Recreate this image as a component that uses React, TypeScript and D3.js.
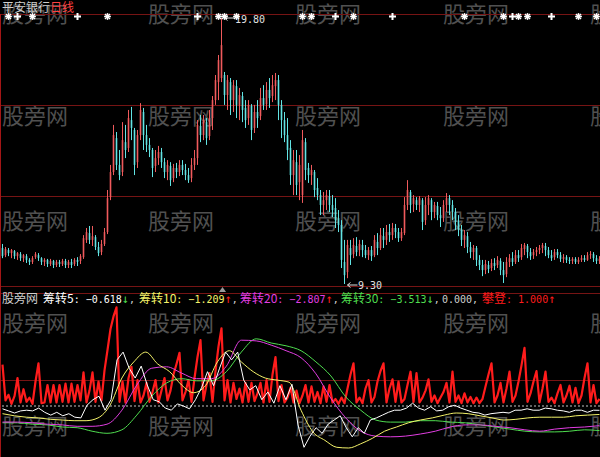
import React from "react";
import * as d3 from "d3";

const WIDTH = 600;
const HEIGHT = 457;

// Daily candles (平安银行 日线)
const opens = [
  10.72, 10.44, 10.64, 10.52, 10.6, 10.4, 10.48, 10.32, 10.4, 10.25,
  10.17, 10.36, 10.44, 10.32, 10.17, 10.25, 10.09, 10.21, 10.05, 10.17,
  10.09, 10.21, 10.05, 10.17, 10.09, 10.25, 10.21, 10.36, 11.04, 11.31,
  11.04, 11.15, 10.76, 10.56, 10.88, 11.35, 12.73, 13.72, 15.06, 14.0,
  13.72, 14.9, 14.67, 15.77, 15.38, 14.11, 15.18, 16.09, 15.18, 14.79,
  14.59, 13.96, 14.27, 14.51, 14.11, 13.72, 13.96, 13.48, 13.88, 13.72,
  14.0, 13.8, 13.6, 13.48, 14.0, 14.27, 15.54, 15.18, 15.69, 15.14,
  15.85, 16.56, 17.27, 17.43, 17.55, 16.76, 17.27, 16.56, 17.11, 16.37,
  16.72, 16.25, 15.85, 16.33, 15.46, 16.09, 15.93, 16.64, 16.4, 16.96,
  16.72, 17.11, 17.35, 16.37, 15.77, 15.18, 14.67, 13.6, 14.11, 13.32,
  12.81, 14.9, 13.88, 13.6, 13.72, 13.09, 12.81, 12.42, 12.61, 12.77,
  12.42, 12.3, 11.9, 11.63, 10.17, 9.77, 10.72, 10.48, 10.8, 10.64,
  10.84, 10.64, 10.44, 10.64, 10.44, 10.96, 10.72, 11.19, 11.04, 11.35,
  11.23, 11.51, 11.35, 11.11, 11.31, 12.42, 12.93, 12.46, 12.61, 12.42,
  12.61, 11.82, 12.42, 12.61, 12.14, 12.38, 12.02, 11.9, 12.42, 12.69,
  12.42, 12.14, 11.75, 11.43, 11.04, 11.19, 10.76, 10.56, 10.72, 10.25,
  10.05, 9.85, 10.05, 9.93, 10.13, 10.05, 10.21, 9.85, 9.69, 10.17,
  10.32, 10.17, 10.44, 10.36, 10.68, 10.8, 10.56, 10.44, 10.56, 10.64,
  10.72, 10.8, 10.64, 10.44, 10.36, 10.56, 10.44, 10.29, 10.36, 10.25,
  10.21, 10.29, 10.17, 10.25, 10.32, 10.25, 10.44, 10.48, 10.32, 10.21,
];
const closes = [
  10.4, 10.68, 10.52, 10.64, 10.4, 10.52, 10.32, 10.44, 10.25, 10.17,
  10.32, 10.48, 10.32, 10.17, 10.25, 10.09, 10.21, 10.05, 10.17, 10.09,
  10.21, 10.05, 10.17, 10.05, 10.25, 10.17, 10.4, 11.11, 11.35, 11.04,
  11.19, 10.76, 10.52, 10.88, 11.35, 12.69, 13.72, 15.18, 14.0, 13.6,
  14.98, 14.59, 15.85, 15.46, 14.0, 15.18, 16.17, 15.18, 14.79, 14.59,
  13.88, 14.27, 14.51, 14.11, 13.72, 14.0, 13.4, 13.88, 13.72, 14.0,
  13.8, 13.6, 13.4, 14.0, 14.27, 15.58, 15.18, 15.77, 15.06, 15.85,
  16.56, 17.35, 18.14, 18.73, 16.76, 17.35, 16.56, 17.15, 16.37, 16.76,
  16.17, 15.77, 16.37, 15.38, 16.09, 15.85, 16.64, 16.37, 16.96, 16.64,
  17.15, 17.35, 16.37, 15.77, 15.18, 14.59, 13.6, 14.19, 13.21, 14.0,
  14.98, 13.8, 13.6, 13.8, 13.01, 12.81, 12.42, 12.61, 12.81, 12.42,
  12.22, 11.82, 11.63, 10.25, 9.65, 10.84, 10.44, 10.84, 10.56, 10.88,
  10.64, 10.44, 10.64, 10.4, 11.04, 10.72, 11.23, 11.04, 11.35, 11.23,
  11.51, 11.35, 11.11, 11.35, 12.42, 13.01, 12.42, 12.69, 12.42, 12.69,
  11.75, 12.42, 12.69, 12.14, 12.42, 12.02, 11.9, 12.42, 12.69, 12.42,
  12.14, 11.75, 11.43, 11.04, 11.23, 10.76, 10.56, 10.72, 10.25, 10.05,
  9.85, 10.09, 9.89, 10.13, 10.01, 10.25, 9.85, 9.65, 10.17, 10.32,
  10.17, 10.44, 10.32, 10.72, 10.84, 10.56, 10.4, 10.56, 10.64, 10.72,
  10.84, 10.64, 10.44, 10.32, 10.56, 10.44, 10.29, 10.36, 10.25, 10.21,
  10.29, 10.17, 10.25, 10.32, 10.25, 10.44, 10.48, 10.32, 10.21, 10.29,
];
const highs = [
  10.88, 10.76, 10.72, 10.68, 10.64, 10.56, 10.56, 10.48, 10.48, 10.32,
  10.4, 10.56, 10.52, 10.36, 10.32, 10.29, 10.29, 10.25, 10.25, 10.25,
  10.29, 10.29, 10.25, 10.29, 10.32, 10.36, 10.48, 11.23, 11.51, 11.59,
  11.59, 11.23, 10.96, 11.04, 11.51, 13.01, 14.0, 15.58, 15.3, 14.59,
  15.69, 15.58, 16.17, 16.29, 15.46, 15.38, 16.44, 16.25, 15.58, 15.06,
  14.67, 14.59, 14.75, 14.67, 14.27, 14.19, 14.11, 14.04, 14.08, 14.19,
  14.19, 14.04, 13.88, 14.27, 14.59, 15.77, 15.97, 15.97, 15.85, 16.17,
  16.72, 17.55, 18.34, 19.8, 17.67, 17.55, 17.43, 17.35, 17.35, 17.04,
  16.88, 16.56, 16.56, 16.4, 16.37, 16.56, 17.04, 17.15, 17.27, 17.43,
  17.55, 17.63, 17.55, 16.56, 16.09, 15.85, 14.98, 14.59, 14.59, 14.39,
  15.38, 15.06, 14.08, 14.0, 13.8, 13.48, 13.01, 12.93, 13.01, 13.01,
  12.81, 12.69, 12.22, 11.82, 11.04, 11.04, 11.04, 11.11, 11.15, 11.04,
  11.04, 10.84, 10.76, 10.8, 11.23, 11.31, 11.51, 11.51, 11.63, 11.67,
  11.71, 11.67, 11.51, 11.51, 12.73, 13.4, 13.01, 12.81, 12.73, 12.77,
  12.69, 12.73, 12.81, 12.69, 12.54, 12.54, 12.34, 12.61, 12.89, 12.81,
  12.61, 12.3, 12.02, 11.63, 11.43, 11.35, 10.96, 10.84, 10.8, 10.44,
  10.25, 10.25, 10.21, 10.29, 10.32, 10.4, 10.32, 10.17, 10.36, 10.48,
  10.56, 10.64, 10.64, 10.88, 10.92, 10.88, 10.72, 10.68, 10.76, 10.84,
  10.92, 10.92, 10.76, 10.64, 10.68, 10.68, 10.56, 10.48, 10.44, 10.36,
  10.36, 10.36, 10.36, 10.44, 10.44, 10.56, 10.6, 10.56, 10.44, 10.4,
];
const lows = [
  10.32, 10.36, 10.4, 10.32, 10.29, 10.25, 10.21, 10.17, 10.13, 10.05,
  10.09, 10.29, 10.21, 10.05, 10.01, 9.97, 10.01, 9.93, 9.97, 9.97,
  10.01, 9.93, 9.93, 9.93, 10.01, 10.01, 10.09, 10.29, 10.92, 10.88,
  10.8, 10.64, 10.4, 10.44, 10.8, 11.27, 12.61, 13.6, 13.8, 13.4,
  13.56, 14.27, 14.51, 14.98, 13.6, 13.88, 14.98, 14.59, 14.51, 14.31,
  13.52, 13.72, 14.0, 13.88, 13.48, 13.4, 13.17, 13.32, 13.48, 13.56,
  13.6, 13.4, 13.29, 13.32, 13.8, 14.0, 14.9, 14.98, 14.79, 14.98,
  15.38, 16.37, 16.56, 17.27, 16.37, 16.17, 15.97, 16.09, 15.85, 15.77,
  15.69, 15.46, 15.58, 14.98, 15.26, 15.46, 15.77, 16.17, 16.17, 16.25,
  16.48, 16.56, 15.77, 15.06, 14.9, 14.19, 13.21, 12.81, 12.81, 12.61,
  12.5, 13.4, 13.29, 13.21, 12.73, 12.61, 12.02, 12.02, 12.22, 12.14,
  11.94, 11.51, 11.35, 9.93, 9.3, 9.53, 10.05, 10.32, 10.4, 10.4,
  10.36, 10.32, 10.25, 10.21, 10.36, 10.44, 10.64, 10.72, 10.84, 10.96,
  11.04, 11.11, 10.96, 11.0, 11.23, 12.22, 12.1, 12.14, 12.22, 12.14,
  11.43, 11.63, 12.02, 11.82, 11.9, 11.82, 11.55, 11.75, 12.14, 12.02,
  11.82, 11.43, 11.19, 10.8, 10.72, 10.52, 10.32, 10.25, 10.01, 9.85,
  9.61, 9.69, 9.73, 9.81, 9.85, 9.93, 9.65, 9.34, 9.57, 9.97,
  10.01, 10.09, 10.17, 10.25, 10.44, 10.32, 10.25, 10.29, 10.4, 10.48,
  10.52, 10.4, 10.32, 10.21, 10.25, 10.32, 10.17, 10.13, 10.13, 10.09,
  10.09, 10.09, 10.09, 10.17, 10.17, 10.21, 10.29, 10.17, 10.09, 10.09,
];

// Signal markers along the top edge (bar indices)
const starBars = [2, 10, 35, 72, 74, 78, 100, 103, 117, 154, 167, 172, 175, 192, 198];
const crossBars = [5, 25, 65, 111, 130, 170, 183];

// 攀登 (one value per bar)
const climb = [
  5.9, 0.8, 1.6, 0.3, 1.4, 4.0, 0.5, 2.4, 0.6, 1.2,
  0.3, 3.5, 6.1, 0.4, 0.5, 3.0, 0.5, 3.0, 0.5, 3.0,
  0.6, 3.2, 0.5, 3.2, 0.6, 3.0, 0.8, 4.8, 0.5, 2.2,
  4.8, 0.6, 3.5, 0.8, 5.1, 8.0, 11.0, 12.8, 14.1, 0.6,
  3.5, 0.5, 4.0, 5.6, 0.7, 3.7, 0.5, 1.5, 3.3, 0.6,
  2.0, 3.7, 0.5, 2.2, 4.0, 0.8, 2.2, 4.5, 6.0, 7.6,
  0.8, 2.0, 3.7, 0.6, 4.0, 7.0, 9.4, 0.8, 3.0, 4.7,
  0.6, 5.0, 8.5, 11.1, 0.8, 3.7, 0.5, 3.3, 1.0, 2.5,
  0.5, 3.3, 0.6, 3.3, 0.7, 1.8, 3.3, 0.5, 3.7, 0.6,
  4.5, 7.0, 0.7, 3.0, 0.5, 1.2, 2.6, 0.5, 2.2, 0.4,
  1.5, 3.0, 0.5, 2.8, 0.6, 2.0, 0.4, 2.8, 0.6, 3.0,
  0.5, 1.0, 0.3, 1.2, 0.4, 2.5, 4.5, 6.1, 0.5, 1.2,
  0.4, 2.5, 3.7, 0.5, 1.3, 3.5, 5.0, 6.1, 0.5, 2.5,
  3.8, 0.6, 3.5, 0.5, 1.0, 3.0, 4.9, 0.6, 4.7, 0.5,
  1.2, 2.2, 3.8, 0.6, 1.5, 0.4, 1.2, 2.0, 3.3, 0.5,
  4.9, 0.6, 1.5, 0.4, 1.8, 0.5, 1.3, 0.4, 1.2, 0.4,
  1.0, 2.8, 4.5, 6.1, 0.5, 1.5, 3.3, 0.5, 2.5, 4.9,
  0.6, 1.5, 3.5, 5.8, 8.3, 0.6, 1.8, 3.5, 5.0, 0.5,
  2.5, 4.9, 0.6, 1.2, 0.4, 1.8, 3.0, 0.5, 1.5, 2.9,
  0.5, 2.6, 0.4, 1.5, 4.0, 6.1, 0.5, 3.0, 0.4, 1.0,
];

// 筹转5 (every second bar)
const chip5 = [
  -0.4, -0.7, -1.0, -0.7, -0.6, -0.7, -0.3, -0.9, -1.3, -0.9,
  -1.4, -1.1, -1.6, -1.7, 0.1, 0.9, 1.4, -0.6, 0.9, 6.6,
  7.7, 5.4, 4.0, 5.7, 3.0, 0.9, 0.6, -0.3, -0.6, 0.3,
  0.0, -0.4, 0.9, 2.6, 4.9, 2.9, 5.4, 7.7, 6.6, 7.7,
  3.7, 2.3, 2.9, 0.9, 2.0, 0.4, 2.9, 0.9, 3.1, -2.7,
  -5.9, -4.3, -3.1, -3.9, -2.6, -2.0, -1.4, -3.1, -4.4, -3.1,
  -3.9, -2.0, -1.7, -1.3, -0.9, -0.6, -0.6, -0.3, 0.4, -0.3,
  -0.6, -0.1, -0.7, -0.6, -0.1, 0.1, -0.3, -0.6, -0.9, -1.0,
  -1.3, -1.1, -1.0, -0.9, -1.0, -0.6, -0.6, -0.4, -0.6, -0.6,
  -0.3, -0.4, -0.6, -0.7, -0.9, -0.6, -0.6, -0.9, -0.6, -0.618,
];
// 筹转10
const chip10 = [
  -1.1, -1.4, -1.6, -1.7, -1.9, -2.0, -2.1, -2.1, -1.7, 0.1,
  4.0, 6.3, 7.7, 6.0, 4.9, 3.0, 1.9, 2.9, 6.3, 7.9,
  6.3, 4.9, 4.0, 3.7, 3.4, -0.6, -3.7, -4.9, -5.9, -6.0,
  -5.4, -4.6, -3.6, -3.0, -2.4, -2.0, -1.7, -1.3, -1.0, -1.1,
  -1.4, -1.7, -2.0, -1.9, -1.7, -1.6, -1.6, -1.6, -1.4, -1.3,
  -1.209,
];
// 筹转20
const chip20 = [
  -2.3, -2.3, -2.4, -2.6, -2.7, -2.9, -2.9, -2.6, -0.6, 3.0,
  5.4, 5.6, 4.7, 3.9, 3.9, 5.7, 9.4, 9.3, 8.7, 7.9,
  6.9, 4.6, 1.1, -1.7, -3.6, -4.3, -4.4, -4.3, -4.0, -3.6,
  -3.0, -2.7, -2.7, -2.9, -3.1, -3.4, -3.6, -3.3, -3.1, -3.0,
  -2.807,
];
// 筹转30
const chip30 = [
  -2.4, -2.4, -2.6, -2.7, -3.0, -3.1, -3.6, -3.9, -3.4, -1.3,
  1.4, 3.3, 3.9, 3.6, 3.6, 4.9, 7.7, 9.6, 9.0, 8.6,
  7.9, 6.3, 4.3, 1.3, -0.6, -2.0, -2.3, -2.3, -2.1, -2.1,
  -2.3, -2.4, -2.7, -3.0, -3.3, -3.6, -3.7, -3.7, -3.6, -3.4,
  -3.513,
];

const seriesNames = ["筹转5", "筹转10", "筹转20", "筹转30"];
const climbName = "攀登";
const stockName = "平安银行";
const periodName = "日线";
const brand = "股旁网";

const COLORS = {
  up: "#f05a5c",
  down: "#62e4e4",
  grid: "#761414",
  border: "#a31616",
  white: "#ffffff",
  yellow: "#f4f36a",
  magenta: "#e23ee2",
  green: "#4fdd4f",
  red: "#ff1c1c",
  label: "#cfcfcf",
  watermark: "#505050",
};

const N = closes.length;
const x = d3.scaleLinear().domain([0, N - 1]).range([2.5, 599.5]);
const yPrice = d3.scaleLinear().domain([9.3, 19.8]).range([284, 18]);
const yInd = d3.scaleLinear().domain([-7, 16]).range([455, 294]);
const fmt2 = d3.format(".2f");
const fmt3 = d3.format(".3f");

const sampledX = (n: number) => (j: number) => x((j * (N - 1)) / (n - 1));

function indicatorPath(vals: number[], curve: d3.CurveFactory) {
  const sx = sampledX(vals.length);
  return (
    d3
      .line<number>()
      .x((_, j) => sx(j))
      .y((v) => yInd(v))
      .curve(curve)(vals) || ""
  );
}

const MONO = "'DejaVu Sans Mono', monospace";
const CJK = "'Noto Sans CJK SC'";

function arrowOf(vals: number[]) {
  const n = vals.length;
  return vals[n - 1] >= vals[n - 2] ? "↑" : "↓";
}

function Star({ cx, cy }: { cx: number; cy: number }) {
  const r = 3.4;
  const d = 2.5;
  return (
    <g stroke="#ffffff" strokeWidth={1.5}>
      <line x1={cx - r} y1={cy} x2={cx + r} y2={cy} />
      <line x1={cx} y1={cy - r} x2={cx} y2={cy + r} />
      <line x1={cx - d} y1={cy - d} x2={cx + d} y2={cy + d} />
      <line x1={cx - d} y1={cy + d} x2={cx + d} y2={cy - d} />
    </g>
  );
}

function Cross({ cx, cy }: { cx: number; cy: number }) {
  const r = 3.5;
  return (
    <g stroke="#ffffff" strokeWidth={2}>
      <line x1={cx - r} y1={cy} x2={cx + r} y2={cy} />
      <line x1={cx} y1={cy - r} x2={cx} y2={cy + r} />
    </g>
  );
}

export default function App() {
  const peakIdx = d3.maxIndex(highs);
  const lowIdx = d3.minIndex(lows);
  const peakX = x(peakIdx);
  const peakY = yPrice(highs[peakIdx]);
  const lowX = x(lowIdx);
  const lowY = yPrice(lows[lowIdx]);

  const wmCols = [2, 148, 295, 443, 590];
  const wmRows = [22, 124, 229, 331, 434];

  const markerY = 16.5;
  const zeroY = yInd(0);

  const chipSeries = [chip5, chip10, chip20, chip30];
  const chipColors = [COLORS.white, COLORS.yellow, COLORS.magenta, COLORS.green];
  const legendX = [43, 139, 240, 341];

  const climbPath =
    d3
      .line<number>()
      .x((_, i) => x(i))
      .y((v) => yInd(v))(climb) || "";

  return (
    <svg
      width={WIDTH}
      height={HEIGHT}
      viewBox={`0 0 ${WIDTH} ${HEIGHT}`}
      style={{ position: "absolute", left: 0, top: 0, background: "#000" }}
    >
      <rect x={0} y={0} width={WIDTH} height={HEIGHT} fill="#000" />

      {/* watermark grid */}
      <g fill={COLORS.watermark} fontFamily={CJK} fontSize={22}>
        {wmRows.map((ry) =>
          wmCols.map((cx) => (
            <text key={`${cx}-${ry}`} x={cx} y={ry}>
              {brand}
            </text>
          ))
        )}
      </g>

      {/* panel frame and grid */}
      <g stroke={COLORS.grid} strokeWidth={1}>
        {[14.5, 105.5, 196.5, 286.5, 293.5, 380.5].map((gy) => (
          <line key={gy} x1={0} x2={WIDTH} y1={gy} y2={gy} />
        ))}
      </g>
      <line x1={0.5} x2={0.5} y1={14} y2={HEIGHT} stroke={COLORS.border} strokeWidth={1} />

      {/* candlesticks */}
      <g>
        {closes.map((c, i) => {
          const o = opens[i];
          const up = c >= o;
          const col = up ? COLORS.up : COLORS.down;
          const cx = x(i);
          const top = yPrice(Math.max(o, c));
          const bot = yPrice(Math.min(o, c));
          return (
            <g key={i}>
              <line x1={cx} x2={cx} y1={yPrice(highs[i])} y2={yPrice(lows[i])} stroke={col} strokeWidth={1} />
              <rect x={cx - 0.8} y={top} width={1.6} height={Math.max(1, bot - top)} fill={col} />
            </g>
          );
        })}
      </g>

      {/* high / low annotations */}
      <g stroke="#e0e0e0" strokeWidth={1} fill="none">
        <line x1={peakX + 3} x2={peakX + 13} y1={peakY} y2={peakY} />
        <polyline points={`${peakX + 6},${peakY - 2.5} ${peakX + 3},${peakY} ${peakX + 6},${peakY + 2.5}`} />
        <line x1={lowX + 3} x2={lowX + 13} y1={lowY + 1} y2={lowY + 1} />
        <polyline points={`${lowX + 6},${lowY - 1.5} ${lowX + 3},${lowY + 1} ${lowX + 6},${lowY + 3.5}`} />
      </g>
      <g fill="#e0e0e0" fontFamily={MONO} fontSize={10}>
        <text x={peakX + 13.5} y={peakY + 4.5}>
          {fmt2(highs[peakIdx])}
        </text>
        <text x={lowX + 13.5} y={lowY + 5}>
          {fmt2(lows[lowIdx])}
        </text>
      </g>

      {/* signal markers */}
      {starBars.map((b) => (
        <Star key={`s${b}`} cx={x(b)} cy={markerY} />
      ))}
      {crossBars.map((b) => (
        <Cross key={`c${b}`} cx={x(b)} cy={markerY} />
      ))}

      {/* title */}
      <text x={2} y={12} fontFamily={CJK} fontSize={12}>
        <tspan fill={COLORS.label}>{stockName}</tspan>
        <tspan fill="#ff4040">{periodName}</tspan>
      </text>

      {/* panel divider marker */}
      <polygon points={`${peakX + 1},287 ${peakX - 2.5},292 ${peakX + 4.5},292`} fill="#9a9a9a" />

      {/* indicator panel */}
      <path d={climbPath} fill="none" stroke={COLORS.red} strokeWidth={2.2} strokeLinejoin="round" />
      <line x1={2} x2={WIDTH} y1={zeroY} y2={zeroY} stroke="#c4c4c4" strokeWidth={1} strokeDasharray="2,2" />
      <path d={indicatorPath(chip30, d3.curveMonotoneX)} fill="none" stroke={COLORS.green} strokeWidth={1} />
      <path d={indicatorPath(chip20, d3.curveMonotoneX)} fill="none" stroke={COLORS.magenta} strokeWidth={1} />
      <path d={indicatorPath(chip10, d3.curveMonotoneX)} fill="none" stroke={COLORS.yellow} strokeWidth={1} />
      <path d={indicatorPath(chip5, d3.curveLinear)} fill="none" stroke={COLORS.white} strokeWidth={1} />

      {/* indicator legend */}
      <text x={2} y={303} fontFamily={CJK} fontSize={12} fill={COLORS.label}>
        {brand}
      </text>
      {chipSeries.map((vals, k) => {
        const arrow = arrowOf(vals);
        return (
          <text key={k} x={legendX[k]} y={303} style={{ whiteSpace: "pre" }}>
            <tspan fontFamily={CJK} fontSize={12} fill={chipColors[k]}>
              {seriesNames[k]}
            </tspan>
            <tspan fontFamily={MONO} fontSize={10} fill={chipColors[k]}>
              {`: ${fmt3(vals[vals.length - 1])}`}
            </tspan>
            <tspan fontFamily={MONO} fontSize={12} fill={arrow === "↑" ? COLORS.red : COLORS.green}>
              {arrow}
            </tspan>
            <tspan fontFamily={MONO} fontSize={10} fill={COLORS.label}>
              {","}
            </tspan>
          </text>
        );
      })}
      <text x={442} y={303} fontFamily={MONO} fontSize={10} fill={COLORS.label}>
        {`${fmt3(0)},`}
      </text>
      <text x={482} y={303} style={{ whiteSpace: "pre" }}>
        <tspan fontFamily={CJK} fontSize={12} fill={COLORS.red}>
          {climbName}
        </tspan>
        <tspan fontFamily={MONO} fontSize={10} fill={COLORS.red}>
          {`: ${fmt3(climb[climb.length - 1])}`}
        </tspan>
        <tspan fontFamily={MONO} fontSize={12} fill={COLORS.red}>
          {arrowOf(climb)}
        </tspan>
      </text>
    </svg>
  );
}
